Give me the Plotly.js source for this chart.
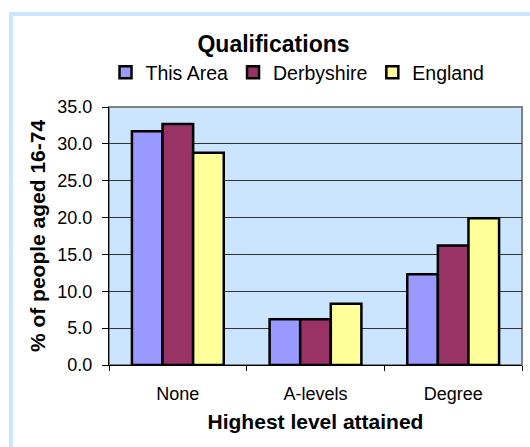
<!DOCTYPE html>
<html>
<head>
<meta charset="utf-8">
<script src="https://cdn.plot.ly/plotly-3.0.1.min.js"></script>
<style>
html,body{margin:0;padding:0;background:#fff;}
#wrap{position:relative;width:530px;height:447px;overflow:hidden;}
#frame{position:absolute;left:9px;top:12px;width:600px;height:600px;border-left:4px solid #cce5ff;border-top:4px solid #cce5ff;box-sizing:border-box;pointer-events:none;z-index:5;}
#chart{position:absolute;left:0;top:0;width:530px;height:447px;}
</style>
</head>
<body>
<div id="wrap">
<div id="chart"></div>
<div id="frame"></div>
</div>
<script>
const categories = ["None", "A-levels", "Degree"];
const seriesNames = ["This Area", "Derbyshire", "England"];
const thisArea = [31.7, 6.2, 12.3];
const derbyshire = [32.7, 6.2, 16.2];
const england = [28.8, 8.3, 19.9];
const yTicks = [0, 5, 10, 15, 20, 25, 30, 35];
const colors = ["#9999ff", "#993366", "#ffff99"];

const font = "Liberation Sans, Arial, sans-serif";
const values = [thisArea, derbyshire, england];
const traces = values.map((v, i) => ({
  type: "bar",
  name: seriesNames[i],
  x: categories,
  y: v,
  marker: {color: colors[i], line: {color: "#000", width: 2.5}},
  hoverinfo: "x+y"
}));

const layout = {
  width: 530, height: 447,
  margin: {l: 109, r: 8, t: 107, b: 82, pad: 0},
  paper_bgcolor: "#ffffff",
  plot_bgcolor: "#cce5ff",
  font: {family: font, color: "#000", size: 18},
  bargap: 0.333, bargroupgap: 0,
  barmode: "group",
  title: {text: "<b>Qualifications</b>", font: {family: font, size: 23, color: "#000"},
          x: 273.5/530, xanchor: "center", y: 1 - 44/447, yanchor: "middle", xref: "container", yref: "container"},
  showlegend: true,
  legend: {orientation: "h", x: (297.5-109)/413, xanchor: "center", y: (365-72.5)/258, yanchor: "middle",
           font: {family: font, size: 19.5, color: "#000"}, bgcolor: "rgba(0,0,0,0)",
           itemwidth: 30, tracegroupgap: 0, traceorder: "normal"},
  xaxis: {
    type: "category",
    showgrid: false, zeroline: false,
    showline: true, linecolor: "#000", linewidth: 1,
    ticks: "outside", tickson: "boundaries", ticklen: 5, tickcolor: "#000", tickwidth: 1,
    tickfont: {family: font, size: 18, color: "#000"},
    ticklabelstandoff: 12,
    title: {text: "<b>Highest level attained</b>", font: {family: font, size: 21, color: "#000"}, standoff: 11},
    automargin: false,
    fixedrange: true
  },
  yaxis: {
    range: [0, 35], tickvals: yTicks, tickformat: ".1f",
    showgrid: true, gridcolor: "#333", gridwidth: 1,
    zeroline: false,
    showline: true, linecolor: "#000", linewidth: 1,
    ticks: "outside", ticklen: 6, tickcolor: "#000", tickwidth: 1,
    tickfont: {family: font, size: 18, color: "#000"},
    ticklabelstandoff: 6,
    title: {text: "<b>% of people aged 16-74</b>", font: {family: font, size: 21, color: "#000"}, standoff: 6},
    automargin: false,
    fixedrange: true
  },
  shapes: [{type: "rect", xref: "paper", yref: "paper", x0: 0, x1: 1, y0: 0, y1: 1,
            line: {color: "#808080", width: 2}, layer: "below"}]
};

Plotly.newPlot("chart", traces, layout, {displayModeBar: false, staticPlot: true});
</script>
</body>
</html>
